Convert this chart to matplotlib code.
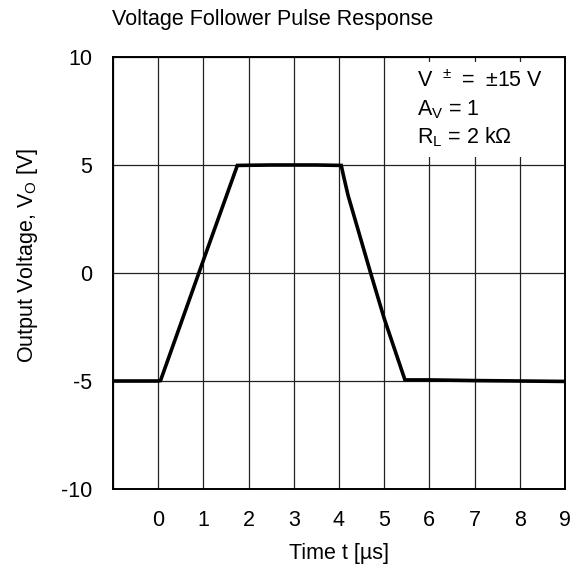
import matplotlib.pyplot as plt
from matplotlib.patches import Rectangle

plt.rcParams['font.family'] = ['Liberation Sans', 'DejaVu Sans']

# waveform (time in us, output voltage in V)
t_us = [-1.0, 0.0, 0.05, 1.0, 1.75, 2.5, 3.5, 4.05, 4.1, 4.2, 4.7, 5.0, 5.46, 6.0, 7.0, 8.0, 9.0]
v_out = [-5.0, -5.0, -4.98, 0.6, 4.98, 5.0, 5.0, 4.98, 4.5, 3.6, 0.0, -2.1, -4.95, -4.95, -4.98, -5.0, -5.02]

x_ticks = list(range(-1, 10))
x_labels = [''] + [str(i) for i in range(0, 10)]
y_ticks = [-10, -5, 0, 5, 10]
y_labels = ['-10', '-5', '0', '5', '10']

FS = 15.5

fig = plt.figure(figsize=(5.77, 5.71), dpi=100)
ax = fig.add_axes([0.196, 0.1436, 0.783, 0.7566])

ax.plot(t_us, v_out, color='black', lw=2.6, solid_joinstyle='miter', zorder=3)

ax.set_xlim(-1, 9)
ax.set_ylim(-10, 10)
ax.set_xticks(x_ticks)
ax.set_xticklabels(x_labels)
ax.set_yticks(y_ticks)
ax.set_yticklabels(y_labels)
ax.tick_params(length=0, labelsize=FS)
ax.tick_params(axis='x', pad=15)
ax.tick_params(axis='y', pad=15)
ax.grid(True, color='#222222', lw=0.9)
for s in ax.spines.values():
    s.set_linewidth(1.4)

# white patch behind the condition text
ax.add_patch(Rectangle((5.05, 5.37), 3.9, 4.38, fc='white', ec='none', zorder=2.5))

ax.set_xlabel('Time t [µs]', fontsize=FS, labelpad=8.5)
ax.set_ylabel('Output Voltage, V$_\\mathregular{O}$ [V]', fontsize=FS)
ax.yaxis.set_label_coords(-0.162, 0.54)
fig.text(0.473, 0.965, 'Voltage Follower Pulse Response', ha='center', va='center', fontsize=FS)

ax.text(0.672, 0.9306, 'V\u2002$^\\mathregular{\\pm}$\u2002=\u2002±15 V', transform=ax.transAxes,
        fontsize=FS, va='baseline', zorder=4)
ax.text(0.672, 0.8657, 'A$_\\mathregular{V}$ = 1', transform=ax.transAxes,
        fontsize=FS, va='baseline', zorder=4)
ax.text(0.672, 0.8009, 'R$_\\mathregular{L}$ = 2 kΩ', transform=ax.transAxes,
        fontsize=FS, va='baseline', zorder=4)

fig.savefig('out.png', dpi=100)
